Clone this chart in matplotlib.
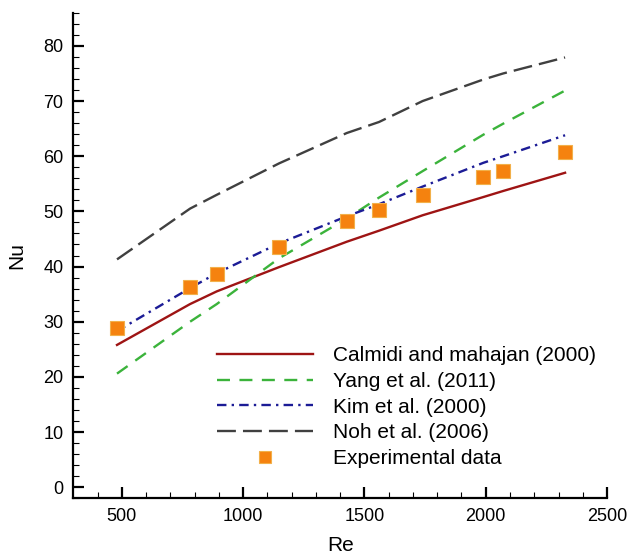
import matplotlib
matplotlib.use("Agg")
import matplotlib.pyplot as plt

re_vals = [480, 781, 891, 1148, 1427, 1560, 1740, 1990, 2072, 2327]
nu_exp = [28.8, 36.3, 38.7, 43.5, 48.2, 50.3, 52.9, 56.3, 57.4, 60.7]
nu_calmidi = [25.8, 33.2, 35.5, 39.9, 44.5, 46.5, 49.3, 52.6, 53.7, 57.0]
nu_yang = [20.6, 30.0, 33.2, 41.5, 48.7, 52.5, 57.3, 63.9, 65.9, 71.9]
nu_kim = [28.3, 36.1, 38.8, 44.2, 49.1, 51.3, 54.5, 58.8, 60.0, 63.8]
nu_noh = [41.3, 50.5, 53.0, 58.7, 64.2, 66.2, 70.0, 73.9, 75.0, 77.9]

labels = ["Calmidi and mahajan (2000)", "Yang et al. (2011)", "Kim et al. (2000)",
          "Noh et al. (2006)", "Experimental data"]
x_ticks = [500, 1000, 1500, 2000, 2500]
y_ticks = [0, 10, 20, 30, 40, 50, 60, 70, 80]

plt.rcParams['font.family'] = ['Liberation Sans', 'DejaVu Sans']
plt.rcParams['font.size'] = 13

fig = plt.figure(figsize=(6.29, 5.54), dpi=100)
ax = fig.add_axes([0.1166, 0.1005, 0.8485, 0.8765])

lw = 1.7
ax.plot(re_vals, nu_calmidi, color='#9E1414', lw=lw, label=labels[0])
ax.plot(re_vals, nu_yang, color='#3BB33B', lw=lw, dashes=(5.5, 4), label=labels[1])
ax.plot(re_vals, nu_kim, color='#1C1C96', lw=lw, dashes=(4, 2.2, 1, 2.2), label=labels[2])
ax.plot(re_vals, nu_noh, color='#404040', lw=lw, dashes=(8, 3), label=labels[3])
ax.plot(re_vals, nu_exp, ls='none', marker='s', ms=10, mfc='#F5820F', mec='#F2B04A',
        mew=0.8, label=labels[4], zorder=5)

ax.set_xlim(300, 2500)
ax.set_ylim(-2, 86)
ax.set_xticks(x_ticks)
ax.set_yticks(y_ticks)
ax.set_xticks(range(400, 2500, 100), minor=True)
ax.set_yticks(range(-2, 87, 2), minor=True)
ax.set_xticklabels([str(v) for v in x_ticks])
ax.set_yticklabels([str(v) for v in y_ticks])

for s in ['top', 'right']:
    ax.spines[s].set_visible(False)
for s in ['left', 'bottom']:
    ax.spines[s].set_linewidth(1.6)

ax.tick_params(which='major', direction='in', length=8, width=1.6, pad=7, labelsize=13)
ax.tick_params(which='minor', direction='in', length=4.5, width=0.8)

ax.set_xlabel('Re', fontsize=15, labelpad=8)
ax.set_ylabel('Nu', fontsize=15, labelpad=12)

leg = ax.legend(loc='upper left', bbox_to_anchor=(0.269, 0.313), frameon=False,
                handlelength=4.6, handletextpad=0.95, labelspacing=0.32,
                borderpad=0, borderaxespad=0, fontsize=15, markerscale=0.85)

fig.savefig('out.png', dpi=100)
